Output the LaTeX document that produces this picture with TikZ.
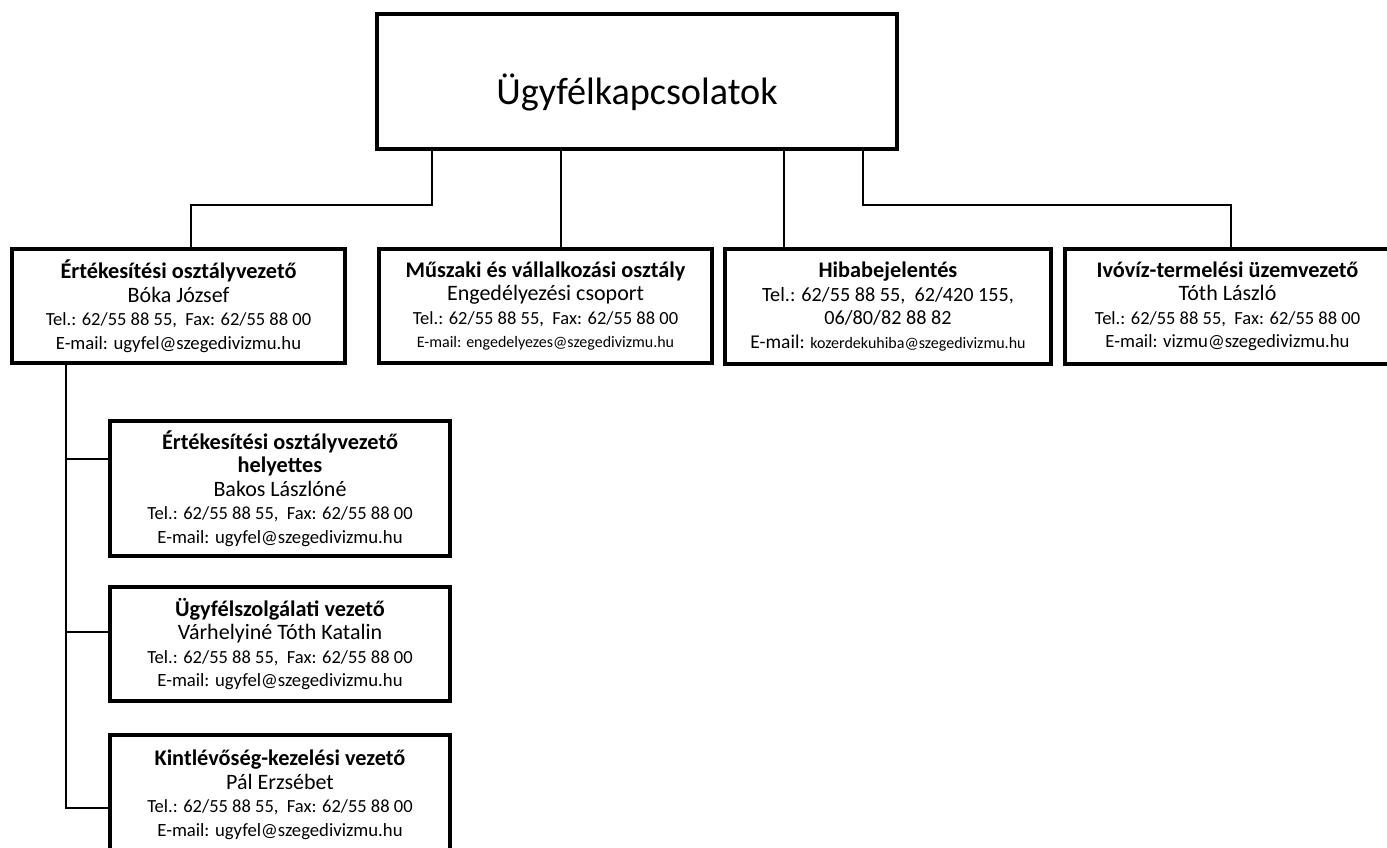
\documentclass[tikz,border=0pt]{standalone}
\usepackage{fontspec}
\setmainfont{Carlito}
\usetikzlibrary{calc}
\newcommand{\fsz}[1]{\fontsize{#1}{23.5}\selectfont}
\newcommand{\hd}{\fsz{22.3}\bfseries}
\newcommand{\nm}{\fsz{22}}
\newcommand{\ml}{\fsz{18.7}}
\begin{document}
\begin{tikzpicture}[x=1pt,y=-1pt,
  box/.style={draw=black, line width=4pt, rectangle, inner sep=0pt, align=center, font=\fsz{18.5}},
  conn/.style={line width=2pt, line cap=rect}]
\useasboundingbox (0,0) rectangle (1387,847);
% top
\node[box, minimum width=520pt, minimum height=135pt] (top) at (637,81.5) {};
\node[font=\fontsize{38.2}{42}\selectfont, inner sep=0pt] (title) at ($(top.center)+(0,11)$) {Ügyfélkapcsolatok};
% row
\node[box, minimum width=333pt, minimum height=114pt] (b1) at (178.5,306)
 {{\hd Értékesítési osztályvezető}\\ {\nm Bóka József}\\ Tel.: 62/55 88 55,\ \ Fax: 62/55 88 00\\ {\ml E-mail: ugyfel@szegedivizmu.hu}};
\node[box, minimum width=333pt, minimum height=114pt] (b2) at (545.5,306)
 {{\hd Műszaki és vállalkozási osztály}\\ {\nm Engedélyezési csoport}\\ Tel.: 62/55 88 55,\ \ Fax: 62/55 88 00\\ {\fsz{16}E-mail: engedelyezes@szegedivizmu.hu}};
\node[box, minimum width=326pt, minimum height=115pt] (b3) at (888,306.5)
 {{\hd Hibabejelentés}\\ {\fsz{20.2}Tel.: 62/55 88 55,\ \ 62/420 155,}\\ {\fsz{20.2}06/80/82 88 82}\\ {\fsz{19.5}E-mail:} {\fsz{16}kozerdekuhiba@szegedivizmu.hu}};
\node[box, minimum width=325pt, minimum height=115pt] (b4) at (1227.5,306.5)
 {{\hd Ivóvíz-termelési üzemvezető}\\ {\nm Tóth László}\\ Tel.: 62/55 88 55,\ \ Fax: 62/55 88 00\\ {\ml E-mail: vizmu@szegedivizmu.hu}};
% sub boxes
\node[box, minimum width=340pt, minimum height=135pt] (s1) at (280,488.5)
 {{\hd Értékesítési osztályvezető}\\ {\hd helyettes}\\ {\nm Bakos Lászlóné}\\ Tel.: 62/55 88 55,\ \ Fax: 62/55 88 00\\ {\ml E-mail: ugyfel@szegedivizmu.hu}};
\node[box, minimum width=340pt, minimum height=114pt] (s2) at (280,644)
 {{\hd Ügyfélszolgálati vezető}\\ {\nm Várhelyiné Tóth Katalin}\\ Tel.: 62/55 88 55,\ \ Fax: 62/55 88 00\\ {\ml E-mail: ugyfel@szegedivizmu.hu}};
\node[box, minimum width=340pt, minimum height=120pt] (s3) at (280,795)
 {{\hd Kintlévőség-kezelési vezető}\\ {\nm Pál Erzsébet}\\ Tel.: 62/55 88 55,\ \ Fax: 62/55 88 00\\ {\ml E-mail: ugyfel@szegedivizmu.hu}};
% connectors from top
\draw[conn] ($(top.south)+(-205,0)$) |- ($(b1.north)+(12.5,-42)$) -- ($(b1.north)+(12.5,0)$);
\draw[conn] ($(top.south)+(-76,0)$) -- ($(b2.north)+(15.5,0)$);
\draw[conn] ($(top.south)+(147,0)$) -- ($(b3.north)+(-104,0)$);
\draw[conn] ($(top.south)+(226,0)$) |- ($(b4.north)+(3.5,-42)$) -- ($(b4.north)+(3.5,0)$);
% sub connectors
\coordinate (v) at ($(b1.south)+(-112.5,0)$);
\coordinate (c1) at ($(s1.west)+(0,-29.5)$);
\coordinate (c2) at ($(s2.west)+(0,-12)$);
\coordinate (c3) at ($(s3.west)+(0,13)$);
\draw[conn] (v) |- (c3);
\draw[conn] (c1) -- (v |- c1);
\draw[conn] (c2) -- (v |- c2);
\end{tikzpicture}
\end{document}
